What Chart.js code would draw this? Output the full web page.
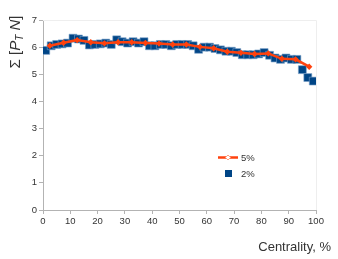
<!DOCTYPE html>
<html>
<head>
<meta charset="utf-8">
<script src="https://cdn.jsdelivr.net/npm/chart.js@4"></script>
<style>
  html, body { margin: 0; padding: 0; background: #fff; }
  #wrap { width: 338px; height: 259px; }
</style>
</head>
<body>
<div id="wrap"><canvas id="chart" width="338" height="259"></canvas></div>
<script>
// centralidade (%) e valores
const cent5 = [2.5, 7.5, 12.5, 17.5, 22.5, 27.5, 32.5, 37.5, 42.5, 47.5,
  52.5, 57.5, 62.5, 67.5, 72.5, 77.5, 82.5, 87.5, 92.5, 97.5];
const val5 = [6.05, 6.16, 6.26, 6.18, 6.14, 6.18, 6.18, 6.15, 6.13, 6.1,
  6.1, 6.01, 5.96, 5.83, 5.79, 5.75, 5.77, 5.57, 5.55, 5.28];

const cent2 = [1, 3, 5, 7, 9, 11, 13, 15, 17, 19, 21, 23, 25, 27, 29, 31, 33,
  35, 37, 39, 41, 43, 45, 47, 49, 51, 53, 55, 57, 59, 61, 63, 65, 67, 69, 71,
  73, 75, 77, 79, 81, 83, 85, 87, 89, 91, 93, 95, 97, 99];
const val2 = [5.88, 6.05, 6.1, 6.12, 6.15, 6.33, 6.3, 6.25, 6.08, 6.1, 6.12,
  6.15, 6.1, 6.27, 6.2, 6.15, 6.2, 6.15, 6.2, 6.05, 6.05, 6.1, 6.1, 6.05, 6.1,
  6.1, 6.1, 6.05, 5.92, 6.0, 6.0, 5.95, 5.9, 5.85, 5.85, 5.8, 5.72, 5.72, 5.72,
  5.75, 5.8, 5.7, 5.6, 5.55, 5.6, 5.55, 5.55, 5.17, 4.88, 4.75];

const xTicks = [0, 10, 20, 30, 40, 50, 60, 70, 80, 90, 100];
const yTicks = [0, 1, 2, 3, 4, 5, 6, 7];
const serieNomes = ["5%", "2%"];

const AZUL = "#004586";
const LARANJA = "#ff420e";
const FONTE = "'Liberation Sans', Arial, sans-serif";

// borda clara em cima e na direita + títulos + legenda
const extras = {
  id: "extras",
  afterDraw(chart) {
    const ctx = chart.ctx;
    const a = chart.chartArea;
    ctx.save();
    ctx.strokeStyle = "#eeeeee";
    ctx.lineWidth = 1;
    ctx.beginPath();
    ctx.moveTo(a.left, a.top + 0.5);
    ctx.lineTo(a.right + 0.5, a.top + 0.5);
    ctx.lineTo(a.right + 0.5, a.bottom);
    ctx.stroke();

    // titulo eixo x
    ctx.fillStyle = "#333";
    ctx.font = "13px " + FONTE;
    ctx.textAlign = "right";
    ctx.textBaseline = "middle";
    ctx.fillText("Centrality, %", 331, 247);

    // titulo eixo y: Σ [P_T N]
    ctx.translate(16, 42);
    ctx.rotate(-Math.PI / 2);
    ctx.textAlign = "left";
    const partes = [
      ["Σ [", "15px " + FONTE, 0],
      ["P", "italic 15px " + FONTE, 0],
      ["T", "italic 10px " + FONTE, 4],
      [" N", "italic 15px " + FONTE, 0],
      ["]", "15px " + FONTE, 0],
    ];
    let total = 0;
    partes.forEach((p) => { ctx.font = p[1]; total += ctx.measureText(p[0]).width; });
    let x = -total / 2;
    partes.forEach((p) => {
      ctx.font = p[1];
      ctx.fillText(p[0], x, p[2]);
      x += ctx.measureText(p[0]).width;
    });
    ctx.restore();

    // legenda
    ctx.save();
    ctx.strokeStyle = LARANJA;
    ctx.lineWidth = 2.5;
    ctx.beginPath();
    ctx.moveTo(218, 157.5);
    ctx.lineTo(238, 157.5);
    ctx.stroke();
    ctx.fillStyle = "#fff";
    ctx.strokeStyle = "#ff9f80";
    ctx.lineWidth = 1;
    ctx.beginPath();
    ctx.moveTo(228, 155); ctx.lineTo(230.5, 157.5); ctx.lineTo(228, 160); ctx.lineTo(225.5, 157.5);
    ctx.closePath();
    ctx.fill();
    ctx.stroke();
    ctx.fillStyle = AZUL;
    ctx.fillRect(225, 170, 7, 7);
    ctx.fillStyle = "#333";
    ctx.font = "9.5px " + FONTE;
    ctx.textAlign = "left";
    ctx.textBaseline = "middle";
    ctx.fillText(serieNomes[0], 241, 158);
    ctx.fillText(serieNomes[1], 241, 174);
    ctx.restore();
  },
};

new Chart(document.getElementById("chart"), {
  type: "scatter",
  data: {
    datasets: [
      {
        label: serieNomes[0],
        type: "line",
        data: cent5.map((c, i) => ({ x: c, y: val5[i] })),
        borderColor: LARANJA,
        backgroundColor: LARANJA,
        borderWidth: 2.5,
        pointStyle: "rectRot",
        pointRadius: 3.2,
        pointBorderWidth: 0,
        tension: 0,
      },
      {
        label: serieNomes[1],
        data: cent2.map((c, i) => ({ x: c, y: val2[i] })),
        backgroundColor: AZUL,
        borderColor: "rgba(120,160,200,0.6)",
        borderWidth: 1,
        pointStyle: "rect",
        pointRadius: 5.6,
      },
    ],
  },
  options: {
    responsive: false,
    animation: false,
    layout: { padding: { left: 0, right: 22, top: 20, bottom: 0 } },
    plugins: { legend: { display: false }, tooltip: { enabled: false } },
    scales: {
      x: {
        type: "linear",
        min: 0,
        max: 100,
        afterBuildTicks: (s) => { s.ticks = xTicks.map((v) => ({ value: v })); },
        afterFit: (s) => { s.height = 49; },
        border: { color: "#b3b3b3" },
        grid: { drawOnChartArea: false, tickLength: 4, color: "#b3b3b3" },
        ticks: { color: "#333", font: { size: 9.5, family: FONTE }, padding: 2, maxRotation: 0 },
      },
      y: {
        min: 0,
        max: 7,
        afterBuildTicks: (s) => { s.ticks = yTicks.map((v) => ({ value: v })); },
        afterFit: (s) => { s.width = 43; },
        border: { color: "#b3b3b3" },
        grid: { drawOnChartArea: false, tickLength: 4, color: "#b3b3b3" },
        ticks: { color: "#333", font: { size: 9.5, family: FONTE }, padding: 2 },
      },
    },
  },
  plugins: [extras],
});
</script>
</body>
</html>
